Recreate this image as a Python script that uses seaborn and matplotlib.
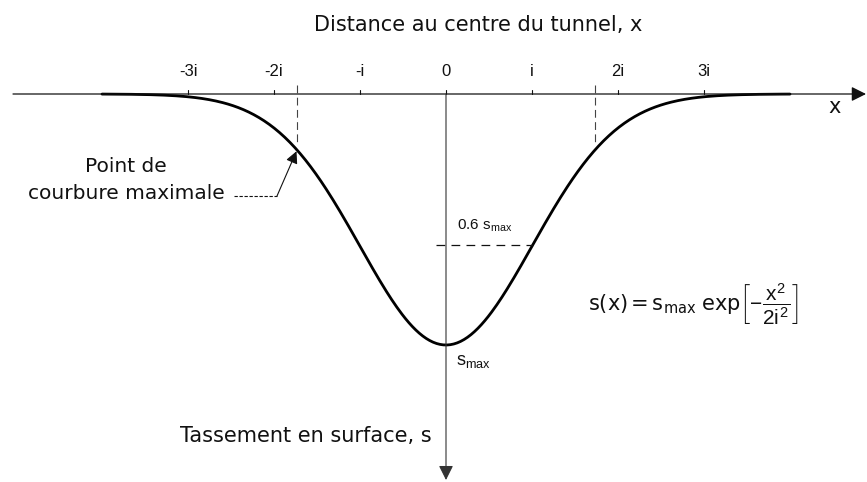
import numpy as np
import pandas as pd
import matplotlib
matplotlib.use("Agg")
import matplotlib.pyplot as plt
import seaborn as sns

# Gaussian settlement trough parameters (in units of i and s_max)
s_max = 1.0
i_width = 1.0
x_extent = [-4.0, 4.0]
tick_positions = [-3, -2, -1, 0, 1, 2, 3]
tick_labels = ["-3i", "-2i", "-i", "0", "i", "2i", "3i"]
level_fraction = 0.6  # dashed reference level 0.6 s_max

sns.set_theme(style="white")
plt.rcParams["font.family"] = ["DejaVu Sans"]
plt.rcParams["mathtext.fontset"] = "custom"
plt.rcParams["mathtext.rm"] = "Liberation Sans"
plt.rcParams["mathtext.it"] = "Liberation Sans"
plt.rcParams["mathtext.sf"] = "Liberation Sans"

x = np.linspace(x_extent[0], x_extent[1], 400)
s = s_max * np.exp(-x**2 / (2 * i_width**2))
df = pd.DataFrame({"x": x, "s": s})

fig = plt.figure(figsize=(8.67, 4.82), dpi=100)
ax = fig.add_axes([0, 0, 1, 1])
ax.set_xlim(-446 / 86, (867 - 446) / 86)
ax.set_ylim((482 - 94) / 251, -94 / 251)
ax.axis("off")

ink = "#111111"
label_font = dict(fontsize=15, color=ink, family="DejaVu Sans")

# horizontal axis with arrow
ax.annotate("", xy=((866 - 446) / 86, 0), xytext=((13 - 446) / 86, 0),
            arrowprops=dict(arrowstyle="-|>", mutation_scale=22, lw=0.9,
                            color=ink, shrinkA=0, shrinkB=0))
# vertical axis with arrow
ax.annotate("", xy=(0, (480 - 94) / 251), xytext=(0, 0),
            arrowprops=dict(arrowstyle="-|>", mutation_scale=22, lw=0.8,
                            color="#333333", shrinkA=0, shrinkB=0))

# tick marks and labels
for tp, tl in zip(tick_positions, tick_labels):
    ax.plot([tp, tp], [0, -0.016], color=ink, lw=0.8)
    ax.text(tp, -0.088, tl, ha="center", va="center", fontsize=12,
            color=ink, family="Liberation Sans")

# settlement curve
sns.lineplot(data=df, x="x", y="s", ax=ax, color="black", lw=2.0,
             legend=False)

# dashed markers of maximum curvature at +/- sqrt(3) i
xc = np.sqrt(3) * i_width
for sx in (-xc, xc):
    ax.plot([sx, sx], [-0.035, 0.19], color="#444444", lw=0.8,
            linestyle=(0, (7, 4)))

# 0.6 s_max level
x_level = i_width * np.sqrt(-2 * np.log(level_fraction))
ax.plot([-0.12, x_level], [level_fraction * s_max] * 2, color=ink, lw=0.9,
        linestyle=(0, (7, 5)))
ax.text(0.13, level_fraction * s_max - 0.075,
        r"0.6 s$_{\mathregular{max}}$", fontsize=11, color=ink,
        ha="left", va="center", family="Liberation Sans")

# s_max label at the trough
ax.text(0.12, s_max + 0.065, r"s$_{\mathregular{max}}$", fontsize=13,
        color=ink, ha="left", va="center", family="Liberation Sans")

# formula
ax.text((588 - 446) / 86, (304 - 94) / 251,
        r"$\mathregular{s(x) = s_{max}\ exp}\left[-\dfrac{x^2}{2i^2}\right]$",
        fontsize=15, color=ink, ha="left", va="center")

# axis titles
ax.text((478 - 446) / 86, (25 - 94) / 251, "Distance au centre du tunnel, x",
        ha="center", va="center", **label_font)
ax.text((835 - 446) / 86, (107 - 94) / 251, "x", ha="center", va="center",
        **label_font)
ax.text((432 - 446) / 86, (436 - 94) / 251, "Tassement en surface, s",
        ha="right", va="center", **label_font)

# annotation of the point of maximum curvature
ax.text((126 - 446) / 86, (180 - 94) / 251, "Point de\ncourbure maximale",
        ha="center", va="center", linespacing=1.5,
        **{**label_font, "fontsize": 14.5})
yk = (196 - 94) / 251
xk = (277 - 446) / 86
ax.plot([(234 - 446) / 86, xk], [yk, yk], color=ink, lw=0.8,
        linestyle=(0, (3, 1.5)))
y_tip = np.exp(-xc**2 / 2) * s_max
ax.annotate("", xy=(-xc, y_tip), xytext=(xk, yk),
            arrowprops=dict(arrowstyle="-|>", mutation_scale=18, lw=0.8,
                            color=ink, shrinkA=0, shrinkB=1))

fig.savefig("out.png", dpi=100)
